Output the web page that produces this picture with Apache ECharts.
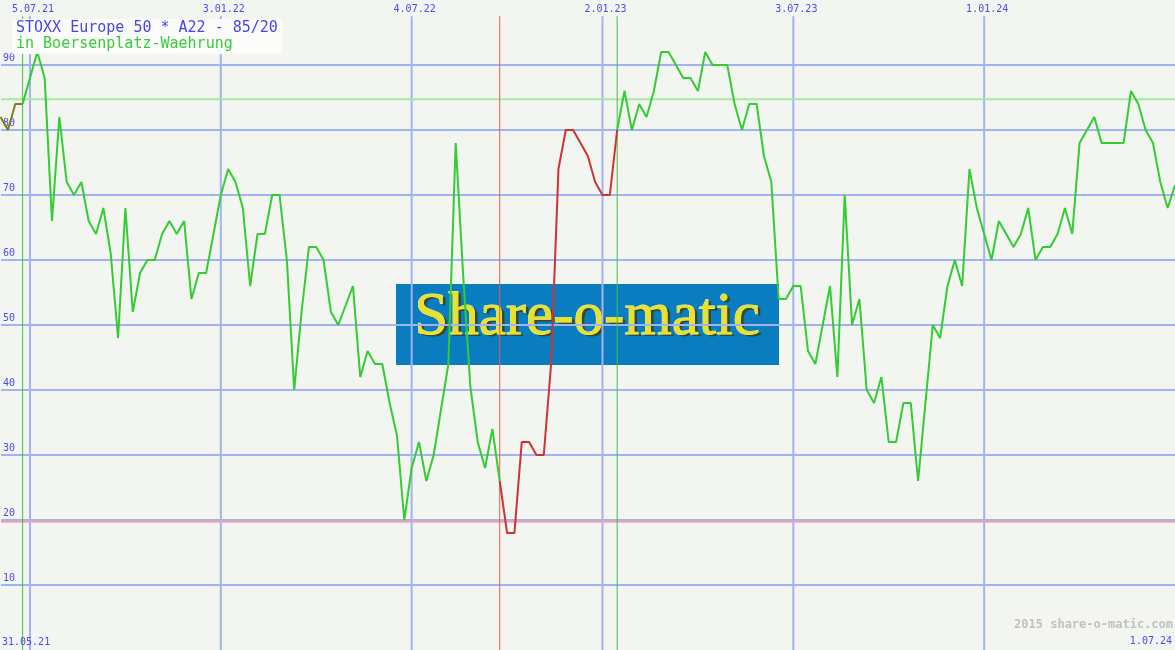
<!DOCTYPE html>
<html><head><meta charset="utf-8">
<script src="https://cdn.jsdelivr.net/npm/echarts@6/dist/echarts.min.js"></script>
<style>html,body{margin:0;padding:0;background:#f3f5f1}#c{width:1175px;height:650px}</style>
</head><body><div id="c"></div>
<script>
// ---- data ----
const title1 = 'STOXX Europe 50 * A22 - 85/20';
const title2 = 'in Boersenplatz-Waehrung';
const firstWeek = 1;           // week index of first value (weeks since 31.05.21)
const values = [
  82, 80, 84, 84, 88, 92, 88, 66, 82, 72,
  70, 72, 66, 64, 68, 61, 48, 68, 52, 58,
  60, 60, 64, 66, 64, 66, 54, 58, 58, 64,
  70, 74, 72, 68, 56, 64, 64, 70, 70, 60,
  40, 52, 62, 62, 60, 52, 50, 53, 56, 42,
  46, 44, 44, 38, 33, 20, 28, 32, 26, 30,
  37, 44, 78, 58, 40.5, 32, 28, 34, 26, 18,
  18, 32, 32, 30, 30, 44, 74, 80, 80, 78,
  76, 72, 70, 70, 80, 86, 80, 84, 82, 86,
  92, 92, 90, 88, 88, 86, 92, 90, 90, 90,
  84, 80, 84, 84, 76, 72, 54, 54, 56, 56,
  46, 44, 50, 56, 42, 70, 50, 54, 40, 38,
  42, 32, 32, 38, 38, 26, 38, 50, 48, 56,
  60, 56, 74, 68, 64, 60, 66, 64, 62, 64,
  68, 60, 62, 62, 64, 68, 64, 78, 80, 82,
  78, 78, 78, 78, 86, 84, 80, 78, 72, 68,
  71.5
];
const tickWeeks = [5, 31, 57, 83, 109, 135];
const tickLabels = ['5.07.21', '3.01.22', '4.07.22', '2.01.23', '3.07.23', '1.01.24'];
const startLabel = '31.05.21';
const endLabel = '1.07.24';
const yTicks = [10, 20, 30, 40, 50, 60, 70, 80, 90];
const upperLevel = 84.75;      // "85" band line
const lowerLevel = 19.75;      // "20" band line
const buyWeeks = [4, 85];
const sellWeeks = [69];
const lastWeek = 161;

// ---- build ----
const pts = values.map((v, k) => [firstWeek + k, v]);
const seg = (a, b) => pts.filter(p => p[0] >= a && p[0] <= b);
const XMIN = 1.052, XMAX = 161;
const BLUE = '#a3b2f2', LBL = '#4b4bef', MONO = 'DejaVu Sans Mono';

const lineSeries = (data, color, width, z) => ({
  type: 'line', data, symbol: 'none', z, silent: true, animation: false,
  lineStyle: { color, width }
});
const vSeries = (w, color, width, z) => lineSeries([[w, 97.5], [w, 0]], color, width, z);
const hSeries = (v, color) => lineSeries([[XMIN, v], [XMAX, v]], color, 2, 1);

const chart = echarts.init(document.getElementById('c'), null, { renderer: 'canvas' });

chart.setOption({
  backgroundColor: '#f3f5f1',
  animation: false,
  grid: { left: 0, right: 0, top: 0, height: 651, containLabel: false },
  xAxis: [
    { type: 'value', min: XMIN, max: XMAX, show: false },
    { type: 'value', position: 'top', min: XMIN, max: XMAX,
      axisLine: { show: false }, axisTick: { show: false }, splitLine: { show: false },
      axisLabel: { inside: true, margin: 4, customValues: tickWeeks, color: LBL,
        fontFamily: MONO, fontSize: 10, padding: [0, 0, 0, 6],
        formatter: v => tickLabels[tickWeeks.indexOf(Math.round(v))] || '' } }
  ],
  yAxis: { type: 'value', min: 0, max: 100, interval: 10,
    axisLine: { show: false }, axisTick: { show: false },
    splitLine: { show: true, showMinLine: false, showMaxLine: false, lineStyle: { color: BLUE, width: 2 } },
    axisLabel: { inside: true, margin: 2, color: LBL, fontFamily: MONO, fontSize: 10,
      verticalAlign: 'bottom', padding: [0, 0, 2, 0],
      formatter: v => yTicks.includes(v) ? String(v) : '' } },
  series: [
    ...tickWeeks.map(w => vSeries(w, BLUE, 2, 1)),
    ...buyWeeks.map(w => vSeries(w, '#3cc43c', 1, 2)),
    ...sellWeeks.map(w => vSeries(w, '#e4604a', 1, 2)),
    hSeries(upperLevel, '#a6eaa0'),
    hSeries(lowerLevel, '#f4a4a8'),
    lineSeries(seg(firstWeek, buyWeeks[0]), '#847a26', 2, 5),
    lineSeries(seg(buyWeeks[0], sellWeeks[0]), '#33cc33', 2, 5),
    lineSeries(seg(sellWeeks[0], buyWeeks[1]), '#cc3333', 2, 5),
    lineSeries(seg(buyWeeks[1], lastWeek), '#33cc33', 2, 5)
  ],
  graphic: [
    { type: 'rect', z: -10, silent: true, shape: { x: 396, y: 284, width: 383, height: 81 },
      style: { fill: '#0a7dc1' } },
    { type: 'text', z: -9, silent: true, x: 590, y: 320,
      style: { text: 'Share-o-matic', font: '61px "Liberation Serif"', align: 'center', verticalAlign: 'middle',
        fill: '#3a4a20' } },
    { type: 'text', z: -8, silent: true, x: 587, y: 318,
      style: { text: 'Share-o-matic', font: '61px "Liberation Serif"', align: 'center', verticalAlign: 'middle',
        fill: '#e8e22e', stroke: '#f8f8a0', lineWidth: 0.8 } },
    { type: 'rect', z: 20, silent: true, shape: { x: 12, y: 19, width: 270, height: 35 },
      style: { fill: '#fbfcfa' } },
    { type: 'text', z: 21, silent: true, x: 16, y: 28,
      style: { text: title1, font: '15px "DejaVu Sans Mono"', fill: '#4646e6', verticalAlign: 'middle' } },
    { type: 'text', z: 21, silent: true, x: 16, y: 44,
      style: { text: title2, font: '15px "DejaVu Sans Mono"', fill: '#36cc36', verticalAlign: 'middle' } },
    { type: 'text', z: 21, silent: true, x: 2, y: 642,
      style: { text: startLabel, font: '10px "DejaVu Sans Mono"', fill: LBL, verticalAlign: 'middle' } },
    { type: 'text', z: 21, silent: true, x: 1172, y: 641,
      style: { text: endLabel, font: '10px "DejaVu Sans Mono"', fill: LBL, align: 'right', verticalAlign: 'middle' } },
    { type: 'text', z: 21, silent: true, x: 1173, y: 625,
      style: { text: '2015 share-o-matic.com', font: 'bold 12px "DejaVu Sans Mono"', fill: '#c2c2c2', align: 'right', verticalAlign: 'middle' } }
  ]
});
</script></body></html>
